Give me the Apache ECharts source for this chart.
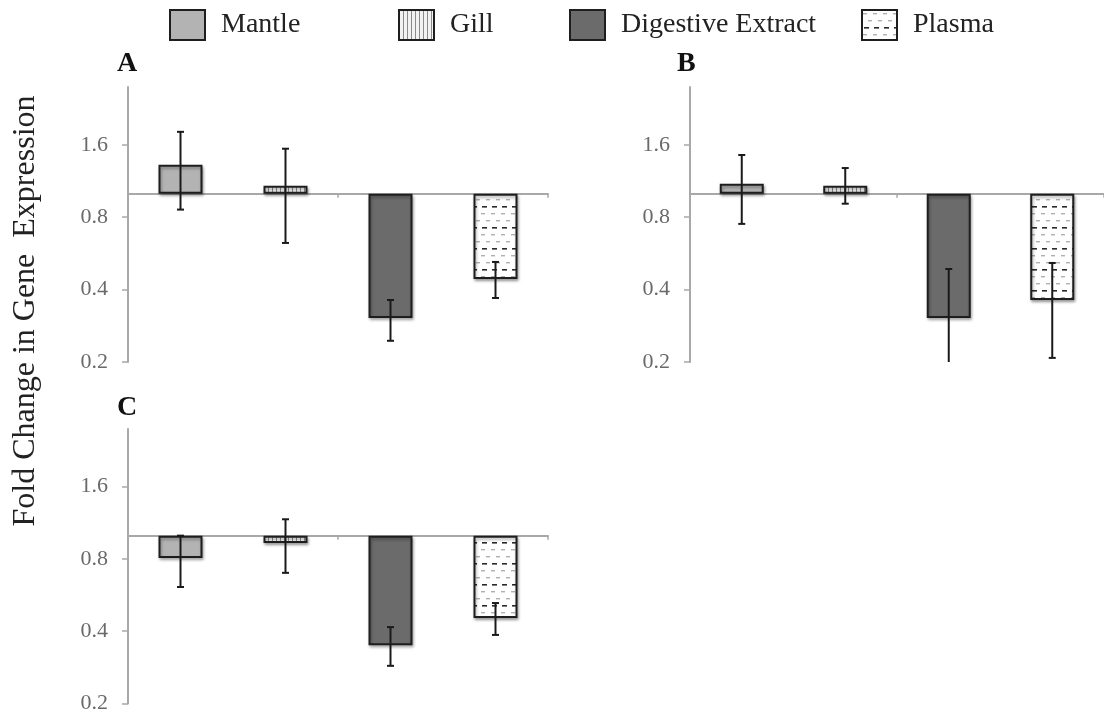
<!DOCTYPE html>
<html><head><meta charset="utf-8">
<script src="https://cdn.jsdelivr.net/npm/echarts@6/dist/echarts.min.js"></script>
<style>html,body{margin:0;padding:0;background:#fff}#c{width:1104px;height:719px}</style>
</head><body><div id="c"></div>
<script>
// ---- data ----
const categories = ['Mantle', 'Gill', 'Digestive Extract', 'Plasma'];
const panelNames = ['A', 'B', 'C'];
const meanA  = [1.32, 1.08, 0.305, 0.443];
const upperA = [1.81, 1.54, 0.362, 0.521];
const lowerA = [0.86, 0.625, 0.245, 0.369];
const meanB  = [1.10, 1.08, 0.305, 0.362];
const upperB = [1.45, 1.28, 0.487, 0.516];
const lowerB = [0.75, 0.91, 0.19, 0.208];
const meanC  = [0.807, 0.932, 0.35, 0.454];
const upperC = [1.0, 1.17, 0.416, 0.524];
const lowerC = [0.611, 0.70, 0.287, 0.386];
const yTicks = [0.2, 0.4, 0.8, 1.6];
const yMin = 0.2;
const yMax = 2.78;
const yLabel = 'Fold Change in Gene  Expression';

const means = [meanA, meanB, meanC];
const uppers = [upperA, upperB, upperC];
const lowers = [lowerA, lowerB, lowerC];

// ---- layout / style ----
const FONT = '"Liberation Serif", "Times New Roman", serif';
const grids = [
  {left: 128, top: 87, width: 420, height: 275},
  {left: 690, top: 87, width: 420, height: 275},
  {left: 128, top: 429, width: 420, height: 274.5}
];
const letterPos = [[117, 64], [677, 64], [117, 408]];

function makeGill() {
  const c = document.createElement('canvas');
  c.width = 4; c.height = 8;
  const g = c.getContext('2d');
  g.fillStyle = '#f2f2f2'; g.fillRect(0, 0, 4, 8);
  g.fillStyle = '#8a8a8a'; g.fillRect(0, 0, 1, 8);
  return c;
}
function makePlasma() {
  const c = document.createElement('canvas');
  c.width = 10; c.height = 21;
  const g = c.getContext('2d');
  g.fillStyle = '#ffffff'; g.fillRect(0, 0, 10, 21);
  g.fillStyle = '#b0b0b0';
  g.fillRect(1, 3, 4, 1.4); g.fillRect(6, 10, 4, 1.4);
  g.fillStyle = '#2a2a2a';
  g.fillRect(2, 17, 5, 1.6);
  return c;
}
const shadow = {shadowBlur: 3, shadowColor: 'rgba(0,0,0,0.35)', shadowOffsetX: 1, shadowOffsetY: 2};
const styles = [
  Object.assign({color: '#b3b3b3', borderColor: '#1e1e1e', borderWidth: 2}, shadow),
  Object.assign({color: {image: makeGill(), repeat: 'repeat'}, borderColor: '#1e1e1e', borderWidth: 2}, shadow),
  Object.assign({color: '#6b6b6b', borderColor: '#1e1e1e', borderWidth: 2}, shadow),
  Object.assign({color: {image: makePlasma(), repeat: 'repeat'}, borderColor: '#1e1e1e', borderWidth: 2}, shadow)
];

const gridOpt = [], xAxes = [], yAxes = [], series = [], graphics = [];
grids.forEach((gr, p) => {
  gridOpt.push({left: gr.left, top: gr.top, width: gr.width, height: gr.height});
  const off = gr.height * Math.log(1 / yMin) / Math.log(yMax / yMin);
  xAxes.push({
    type: 'category', gridIndex: p, data: categories, position: 'bottom', offset: -off,
    axisLine: {show: true, onZero: false, lineStyle: {color: '#a8a8a8', width: 2}},
    axisTick: {show: true, length: 4, lineStyle: {color: '#a8a8a8', width: 1.5}},
    axisLabel: {show: false}, splitLine: {show: false}
  });
  yAxes.push({
    type: 'log', logBase: 2, gridIndex: p, min: yMin, max: yMax,
    axisLine: {show: true, lineStyle: {color: '#a8a8a8', width: 2}},
    axisTick: {show: true, length: 6, customValues: yTicks, lineStyle: {color: '#a8a8a8', width: 1.5}},
    axisLabel: {show: true, customValues: yTicks, margin: 20, color: '#6a6a6a', fontSize: 22, fontFamily: FONT,
      formatter: v => Number(v).toFixed(1)},
    splitLine: {show: false}, minorSplitLine: {show: false}
  });
  categories.forEach((cat, i) => {
    series.push({
      type: 'bar', name: cat, xAxisIndex: p, yAxisIndex: p,
      data: categories.map((c, j) => j === i ? means[p][j] : '-'),
      barWidth: 44, barGap: '-100%', itemStyle: styles[i], emphasis: {disabled: true}, z: 2
    });
  });
  series.push({
    type: 'custom', name: 'err' + p, xAxisIndex: p, yAxisIndex: p, z: 5,
    data: categories.map((c, j) => [j, means[p][j], lowers[p][j], uppers[p][j]]),
    encode: {x: 0, y: [1, 2, 3]},
    renderItem: (params, api) => {
      const idx = api.value(0);
      const x = api.coord([idx, 1])[0];
      const yHi = api.coord([idx, api.value(3)])[1];
      const yLo0 = api.coord([idx, api.value(2)])[1];
      const cs = params.coordSys;
      const bottom = cs.y + cs.height;
      const yLo = Math.min(yLo0, bottom);
      const cap = 3.5;
      const st = {stroke: '#1a1a1a', lineWidth: 2};
      const ch = [
        {type: 'line', shape: {x1: x, y1: yHi, x2: x, y2: yLo}, style: st},
        {type: 'line', shape: {x1: x - cap, y1: yHi, x2: x + cap, y2: yHi}, style: st}
      ];
      if (yLo0 <= bottom) ch.push({type: 'line', shape: {x1: x - cap, y1: yLo, x2: x + cap, y2: yLo}, style: st});
      return {type: 'group', children: ch};
    }
  });
  graphics.push({type: 'text', x: letterPos[p][0], y: letterPos[p][1],
    style: {text: panelNames[p], font: 'bold 28px ' + FONT, fill: '#111', align: 'left', verticalAlign: 'middle'}});
});
graphics.push({type: 'text', x: 26, y: 311, rotation: Math.PI / 2,
  style: {text: yLabel, font: '32px ' + FONT, fill: '#222', align: 'center', verticalAlign: 'middle'}});

const legendLefts = [169, 398, 569, 861];
const legends = categories.map((cat, i) => ({
  data: [cat], left: legendLefts[i], top: 9, padding: 0, orient: 'horizontal',
  itemWidth: 35, itemHeight: 30, icon: 'rect', selectedMode: false,
  textStyle: {fontFamily: FONT, fontSize: 28, color: '#222', padding: [5, 0, 0, 11]}
}));

const chart = echarts.init(document.getElementById('c'), null, {renderer: 'canvas'});
chart.setOption({
  animation: false, backgroundColor: '#fff',
  legend: legends, grid: gridOpt, xAxis: xAxes, yAxis: yAxes, series: series, graphic: graphics
});
</script></body></html>
